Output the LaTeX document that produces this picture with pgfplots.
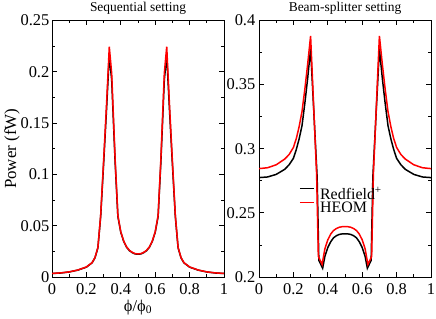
\documentclass[border=0pt]{standalone}
\usepackage{fontspec}
\setmainfont{Liberation Serif}
\usepackage{pgfplots}
\pgfplotsset{compat=1.18}
\begin{document}
\begin{tikzpicture}
\useasboundingbox (0,0) rectangle (436bp,319bp);
\pgfplotsset{
  myaxis/.style={
    scale only axis, width=172bp, height=256.5bp, anchor=south west,
    xmin=0, xmax=1,
    xtick={0,0.2,0.4,0.6,0.8,1},
    minor x tick num=1, minor y tick num=1,
    tick align=inside,
    major tick length=5bp, minor tick length=3bp,
    axis line style={line width=0.8pt},
    every tick/.style={line width=0.8pt, black},
    /pgf/number format/.cd, fixed, precision=2, assume math mode=true,
    /pgfplots/.cd,
    ticklabel style={font=\fontsize{16.5}{18}\selectfont},
    xticklabel style={anchor=base, inner sep=0pt, yshift=-17.5bp},
    yticklabel style={anchor=east, inner sep=0pt, xshift=-2.5bp},
    every axis title shift=0pt,
    title style={at={(0.5,1)}, anchor=base, inner sep=0pt, yshift=8.5bp, font=\fontsize{13.5}{15}\selectfont},
  },
  blk/.style={black, line width=1.5pt},
  rd/.style={red, line width=1.5pt},
}
\begin{axis}[myaxis, at={(52bp,42bp)},
  ymin=0, ymax=0.25,
  ytick={0,0.05,0.1,0.15,0.2,0.25},
  title={Sequential setting},
  ylabel={Power (fW)},
  ylabel style={at={(axis description cs:-0.233,0.5)}, anchor=center, inner sep=0pt, font=\fontsize{17}{19}\selectfont},
  xlabel={ϕ/ϕ\textsubscript{0}},
  xlabel style={at={(axis description cs:0.5,-0.1326)}, anchor=base, inner sep=0pt, font=\fontsize{16.5}{18}\selectfont},
]
\addplot[blk] coordinates {
(0,0.0034) (0.05,0.0039) (0.1,0.0049) (0.15,0.0067) (0.2,0.0096) (0.233,0.0138) (0.25,0.0187)
(0.267,0.0285) (0.283,0.0590) (0.3,0.1100) (0.317,0.1630) (0.333,0.2160) (0.347,0.1920)
(0.367,0.1120) (0.383,0.0590) (0.4,0.0435) (0.417,0.0347) (0.433,0.0292) (0.45,0.0257)
(0.467,0.0237) (0.483,0.0225) (0.5,0.0222)
(0.517,0.0225) (0.533,0.0237) (0.55,0.0257) (0.567,0.0292) (0.583,0.0347) (0.6,0.0435)
(0.617,0.0590) (0.633,0.1120) (0.653,0.1920) (0.667,0.2160) (0.683,0.1630) (0.7,0.1100)
(0.717,0.0590) (0.733,0.0285) (0.75,0.0187) (0.767,0.0138) (0.8,0.0096) (0.85,0.0067)
(0.9,0.0049) (0.95,0.0039) (1,0.0034)
};
\addplot[rd] coordinates {
(0,0.0035) (0.05,0.0040) (0.1,0.0050) (0.15,0.0068) (0.2,0.0098) (0.233,0.0140) (0.25,0.0190)
(0.267,0.0290) (0.283,0.0600) (0.3,0.1130) (0.317,0.1680) (0.333,0.2245) (0.347,0.1985)
(0.367,0.1150) (0.383,0.0600) (0.4,0.0440) (0.417,0.0350) (0.433,0.0295) (0.45,0.0260)
(0.467,0.0240) (0.483,0.0228) (0.5,0.0225)
(0.517,0.0228) (0.533,0.0240) (0.55,0.0260) (0.567,0.0295) (0.583,0.0350) (0.6,0.0440)
(0.617,0.0600) (0.633,0.1150) (0.653,0.1985) (0.667,0.2245) (0.683,0.1680) (0.7,0.1130)
(0.717,0.0600) (0.733,0.0290) (0.75,0.0190) (0.767,0.0140) (0.8,0.0098) (0.85,0.0068)
(0.9,0.0050) (0.95,0.0040) (1,0.0035)
};
\end{axis}
\begin{axis}[myaxis, at={(259bp,42bp)},
  ymin=0.2, ymax=0.4,
  ytick={0.2,0.25,0.3,0.35,0.4},
  yticklabel style={xshift=-1bp},
  title={Beam-splitter setting},
  legend cell align=left,
  legend style={draw=none, fill=none, at={(axis description cs:0.232,0.357)}, anchor=north west,
    inner sep=0pt, font=\fontsize{16}{17}\selectfont,
    nodes={inner sep=1.5pt}, row sep=-2pt, column sep=4bp},
  legend image code/.code={\draw[#1, line width=1.5pt] (0bp,0.55em) -- (14bp,0.55em);},
]
\addplot[blk] coordinates {
(0,0.2775) (0.05,0.2780) (0.1,0.2800) (0.15,0.2840) (0.175,0.2875) (0.2,0.2925) (0.217,0.2995)
(0.233,0.3075) (0.25,0.3180)
(0.267,0.3360) (0.283,0.3550) (0.3,0.3780) (0.338,0.2780) (0.348,0.2130) (0.37,0.2068)
(0.383,0.2160) (0.4,0.2230) (0.417,0.2275) (0.433,0.2305) (0.45,0.2322) (0.467,0.2332)
(0.483,0.2336) (0.5,0.2337)
(0.517,0.2336) (0.533,0.2332) (0.55,0.2322) (0.567,0.2305) (0.583,0.2275) (0.6,0.2230)
(0.617,0.2160) (0.63,0.2068) (0.652,0.2130) (0.662,0.2780) (0.7,0.3780) (0.717,0.3550)
(0.733,0.3360) (0.75,0.3180) (0.767,0.3075) (0.783,0.2995) (0.8,0.2925) (0.825,0.2875)
(0.85,0.2840) (0.9,0.2800) (0.95,0.2780) (1,0.2775)
};
\addlegendentry{Redfield\textsuperscript{+}}
\addplot[rd] coordinates {
(0,0.2845) (0.05,0.2852) (0.1,0.2875) (0.15,0.2920) (0.175,0.2955) (0.2,0.3010) (0.217,0.3080)
(0.233,0.3170) (0.25,0.3290)
(0.267,0.3470) (0.283,0.3660) (0.3,0.3880) (0.335,0.2800) (0.345,0.2160) (0.367,0.2098)
(0.383,0.2220) (0.4,0.2290) (0.417,0.2335) (0.433,0.2362) (0.45,0.2378) (0.467,0.2388)
(0.483,0.2392) (0.5,0.2393)
(0.517,0.2392) (0.533,0.2388) (0.55,0.2378) (0.567,0.2362) (0.583,0.2335) (0.6,0.2290)
(0.617,0.2220) (0.633,0.2098) (0.655,0.2160) (0.665,0.2800) (0.7,0.3880) (0.717,0.3660)
(0.733,0.3470) (0.75,0.3290) (0.767,0.3170) (0.783,0.3080) (0.8,0.3010) (0.825,0.2955)
(0.85,0.2920) (0.9,0.2875) (0.95,0.2852) (1,0.2845)
};
\addlegendentry{HEOM}
\end{axis}
\end{tikzpicture}
\end{document}
